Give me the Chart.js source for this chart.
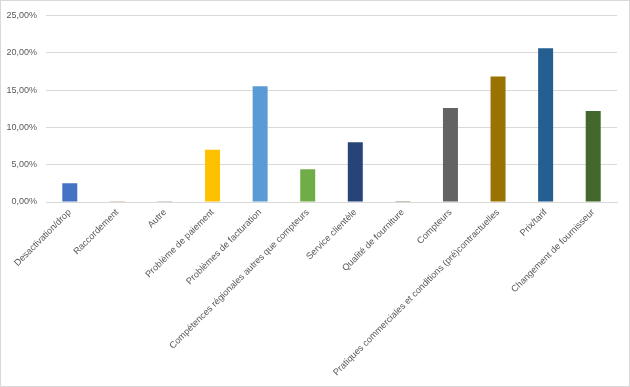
<!DOCTYPE html>
<html>
<head>
<meta charset="utf-8">
<script src="https://cdn.jsdelivr.net/npm/chart.js@4"></script>
<style>
  html, body { margin: 0; padding: 0; background: #fff; }
  #wrap { width: 628px; height: 385px; border: 1px solid #d9d9d9; position: relative; }
</style>
</head>
<body>
<div id="wrap"><canvas id="chart"></canvas></div>
<script>
const categories = [
  'Desactivation/drop',
  'Raccordement',
  'Autre',
  'Problème de paiement',
  'Problèmes de facturation',
  'Compétences régionales autres que compteurs',
  'Service clientèle',
  'Qualité de fourniture',
  'Compteurs',
  'Pratiques commerciales et conditions (pré)contractuelles',
  'Prix/tarif',
  'Changement de fournisseur'
];
const values = [2.5, 0.15, 0.15, 7.0, 15.5, 4.4, 8.0, 0.15, 12.6, 16.8, 20.6, 12.2];
const barColors = [
  '#4472c4', '#c8b48e', '#b4b4b4', '#ffc000', '#5b9bd5', '#70ad47',
  '#264478', '#8f8f77', '#636363', '#997300', '#255e91', '#43682b'
];

const ctx = document.getElementById('chart');

new Chart(ctx, {
  type: 'bar',
  data: {
    labels: categories,
    datasets: [{
      data: values,
      backgroundColor: barColors,
      barPercentage: 0.63,
      categoryPercentage: 0.5
    }]
  },
  options: {
    responsive: true,
    maintainAspectRatio: false,
    animation: false,
    layout: { padding: { top: 11, right: 12, left: 0, bottom: 0 } },
    plugins: { legend: { display: false }, tooltip: { enabled: false } },
    scales: {
      x: {
        grid: { display: false, drawTicks: false },
        border: { color: '#d9d9d9' },
        ticks: {
          autoSkip: false,
          minRotation: 45,
          maxRotation: 45,
          padding: 5,
          color: '#595959',
          font: { family: 'Liberation Sans', size: 9.2 }
        },
        afterFit: scale => { scale.height = 184; }
      },
      y: {
        min: 0,
        max: 25,
        grid: { color: '#d9d9d9', drawTicks: false },
        border: { display: false },
        ticks: {
          stepSize: 5,
          padding: 9,
          color: '#595959',
          font: { family: 'Liberation Sans', size: 9 },
          callback: v => v.toFixed(2).replace('.', ',') + '%'
        },
        afterFit: scale => { scale.width = 45; }
      }
    }
  }
});
</script>
</body>
</html>
